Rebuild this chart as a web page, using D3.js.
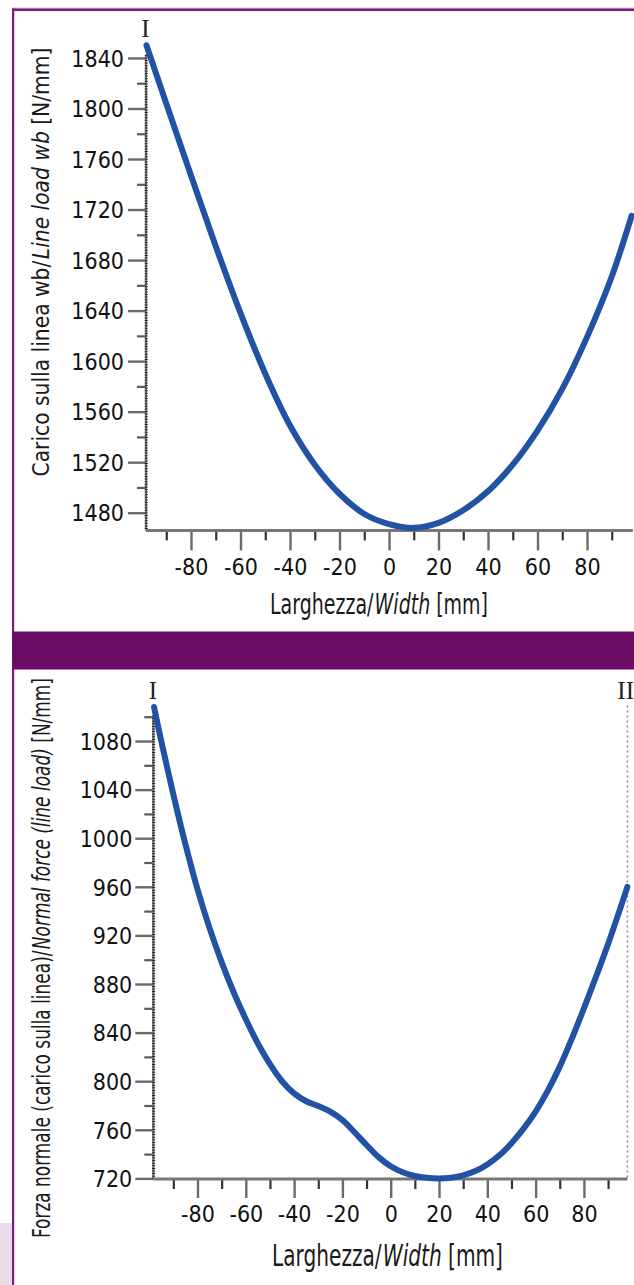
<!DOCTYPE html>
<html><head><meta charset="utf-8">
<script src="https://cdn.jsdelivr.net/npm/d3@7"></script>
<style>
html,body{margin:0;padding:0;background:#fff;}
svg{display:block;}
.tick text{font-family:"DejaVu Sans Condensed","DejaVu Sans",sans-serif;font-stretch:condensed;fill:#111;}
.ttl{font-family:"Liberation Sans Narrow","DejaVu Sans Condensed",sans-serif;font-stretch:condensed;fill:#1a1a1a;}
.rom{font-family:"Liberation Serif","DejaVu Serif",serif;fill:#222;}
</style></head>
<body>
<script>
// ---------- data ----------
const topX = [-98,-90,-80,-70,-60,-50,-40,-30,-20,-10,0,10,20,30,40,50,60,70,80,90,98];
const topY = [1850,1804,1747,1691,1638,1590,1549,1518,1495,1479,1471,1468,1472,1482,1497,1518,1545,1578,1619,1667,1715];
const botX = [-98,-95,-90,-85,-80,-75,-70,-65,-60,-55,-50,-45,-40,-35,-30,-25,-20,-15,-10,-5,0,5,10,15,20,25,30,35,40,45,50,55,60,65,70,75,80,85,90,95,98];
const botY = [1108,1080,1036,995,958,926,898,873,851,831,814,800,790,783.5,779.5,775,768,758,747.5,737.5,730,725,722,720.5,720,720.6,722.5,726,731.5,739,749,761,775,792,812,835,860,886,913,942,960];
const xTicks = [-80,-60,-40,-20,0,20,40,60,80];
const xMinor = [-90,-70,-50,-30,-10,10,30,50,70,90];
const topYTicks = [1480,1520,1560,1600,1640,1680,1720,1760,1800,1840];
const topYMinor = [1500,1540,1580,1620,1660,1700,1740,1780,1820];
const botYTicks = [720,760,800,840,880,920,960,1000,1040,1080];
const botYMinor = [740,780,820,860,900,940,980,1020,1060,1100];
const xTitle = ["Larghezza/", "Width", "[mm]"];
const topYTitle = ["Carico sulla linea wb/", "Line load wb", "[N/mm]"];
const botYTitle = ["Forza normale (carico sulla linea)/", "Normal force (line load)", "[N/mm]"];

const W = 634, H = 1285;
const svg = d3.select("body").append("svg").attr("width", W).attr("height", H);
svg.append("rect").attr("width", W).attr("height", H).attr("fill", "#fff");

// frame decorations
const purple = "#6c0c66";
svg.append("rect").attr("x", 12).attr("y", 7.5).attr("width", W - 12).attr("height", 1.2).attr("fill", "#d9b8d6");
svg.append("rect").attr("x", 12).attr("y", 8.5).attr("width", W - 12).attr("height", 2.5).attr("fill", "#7d1a79");
svg.append("rect").attr("x", 12).attr("y", 8.5).attr("width", 2.2).attr("height", H).attr("fill", "#7d1a79");
svg.append("rect").attr("x", 12).attr("y", 631.5).attr("width", W - 12).attr("height", 38).attr("fill", purple);
svg.append("rect").attr("x", 0).attr("y", 1223).attr("width", 12).attr("height", H - 1223).attr("fill", "#e7dce8");

// title made of plain / italic / plain pieces, squeezed along its direction to a target length
function titleText(g, parts, o) {
  const grp = g.append("g").attr("transform", `translate(${o.cx},${o.cy})` + (o.rotate ? " rotate(-90)" : ""));
  const inner = grp.append("g");
  let pos = 0;
  const gaps = [1.5, o.size * 0.28];
  parts.forEach((p, i) => {
    const t = inner.append("text").attr("class", "ttl").attr("font-size", o.size)
      .attr("font-style", i === 1 ? "italic" : "normal").attr("x", pos).text(p);
    pos += t.node().getComputedTextLength() + (i < parts.length - 1 ? gaps[i] : 0);
  });
  const s = o.len / pos;
  inner.attr("transform", `scale(${s},1) translate(${-pos / 2},0)`);
}

function panel(cfg) {
  const g = svg.append("g");
  const x = d3.scaleLinear().domain(cfg.xDom).range(cfg.xRange);
  const y = d3.scaleLinear().domain(cfg.yDom).range(cfg.yRange);
  const x0 = cfg.xRange[0], yb = cfg.yRange[0];
  const fmt = d => String(d);

  // y axis
  const ya = g.append("g").attr("transform", `translate(${x0},0)`)
    .call(d3.axisLeft(y).tickValues(cfg.yMinor).tickSize(9).tickFormat(""));
  ya.select(".domain").remove();
  ya.selectAll("line").attr("stroke", "#5a5a5a").attr("stroke-width", 2.2);
  const yb2 = g.append("g").attr("transform", `translate(${x0},0)`)
    .call(d3.axisLeft(y).tickValues(cfg.yTicks).tickSize(18).tickPadding(cfg.yPad).tickFormat(fmt));
  yb2.select(".domain").remove();
  yb2.selectAll("line").attr("stroke", "#6a6a6a").attr("stroke-width", 2.4);
  yb2.selectAll("text").attr("font-size", 23).attr("dy", "0.36em");
  g.append("line").attr("x1", x0).attr("x2", x0).attr("y1", cfg.yRange[1]).attr("y2", yb)
    .attr("stroke", "#777").attr("stroke-width", 2.2);
  g.append("line").attr("x1", x0 + 0.3).attr("x2", x0 + 0.3).attr("y1", cfg.yRange[1]).attr("y2", yb)
    .attr("stroke", "#222").attr("stroke-width", 3).attr("stroke-dasharray", "1,1.6");

  // x axis
  const xa = g.append("g").attr("transform", `translate(0,${yb})`)
    .call(d3.axisBottom(x).tickValues(cfg.xMinor).tickSize(10).tickFormat(""));
  xa.select(".domain").remove();
  xa.selectAll("line").attr("stroke", "#333").attr("stroke-width", 2.2);
  const xb = g.append("g").attr("transform", `translate(0,${yb})`)
    .call(d3.axisBottom(x).tickValues(xTicks).tickSize(cfg.xTick).tickPadding(8).tickFormat(fmt));
  xb.select(".domain").remove();
  xb.selectAll("line").attr("stroke", "#6a6a6a").attr("stroke-width", 2.4);
  xb.selectAll("text").attr("font-size", 23);
  g.append("line").attr("x1", x0).attr("x2", cfg.xRange[1]).attr("y1", yb).attr("y2", yb)
    .attr("stroke", "#777").attr("stroke-width", 3);

  // optional dotted right boundary
  if (cfg.rightDotted) {
    g.append("line").attr("x1", cfg.xRange[1]).attr("x2", cfg.xRange[1])
      .attr("y1", cfg.yRange[1] - 10).attr("y2", yb)
      .attr("stroke", "#8a8a8a").attr("stroke-width", 1.5).attr("stroke-dasharray", "2,3");
  }

  // curve
  const pts = cfg.xs.map((v, i) => [v, cfg.ys[i]]);
  g.append("path").datum(pts)
    .attr("d", d3.line().x(d => x(d[0])).y(d => y(d[1])).curve(d3.curveCatmullRom.alpha(0.5)))
    .attr("fill", "none").attr("stroke", "#2152a3").attr("stroke-width", 6)
    .attr("stroke-linecap", "round").attr("stroke-linejoin", "round");

  // markers I / II
  g.append("text").attr("class", "rom").attr("x", x(cfg.xs[0]) - 1).attr("y", cfg.romY)
    .attr("text-anchor", "middle").attr("font-size", 25).text("I");
  if (cfg.rightDotted) {
    g.append("text").attr("class", "rom").attr("x", 634).attr("y", cfg.romY)
      .attr("text-anchor", "end").attr("font-size", 25).text("II");
  }

  titleText(g, xTitle, {size: cfg.xtSize, cx: cfg.xtX, cy: cfg.xtY, len: cfg.xtLen, rotate: false});
  titleText(g, cfg.yTitle, {size: cfg.ytSize, cx: cfg.ytX, cy: cfg.ytY, len: cfg.ytLen, rotate: true});
}

panel({
  xs: topX, ys: topY,
  xDom: [-98.2, 98.5], xRange: [145.96, 632.8],
  yDom: [1466, 1842.5], yRange: [530.4, 54.8],
  yTicks: topYTicks, yMinor: topYMinor, yPad: 4, xTick: 20,
  xMinor: xMinor, rightDotted: false, romY: 37,
  xtX: 379, xtY: 614, xtLen: 218, xtSize: 28,
  yTitle: topYTitle, ytX: 49, ytY: 262, ytLen: 429, ytSize: 23
});

panel({
  xs: botX, ys: botY,
  xDom: [-98.3, 98], xRange: [153.3, 627.4],
  yDom: [719.5, 1101], yRange: [1179, 715.5],
  yTicks: botYTicks, yMinor: botYMinor, yPad: 3, xTick: 19,
  xMinor: xMinor, rightDotted: true, romY: 699,
  xtX: 387.5, xtY: 1266, xtLen: 231, xtSize: 31,
  yTitle: botYTitle, ytX: 50, ytY: 958, ytLen: 560, ytSize: 25
});
</script>
</body></html>
